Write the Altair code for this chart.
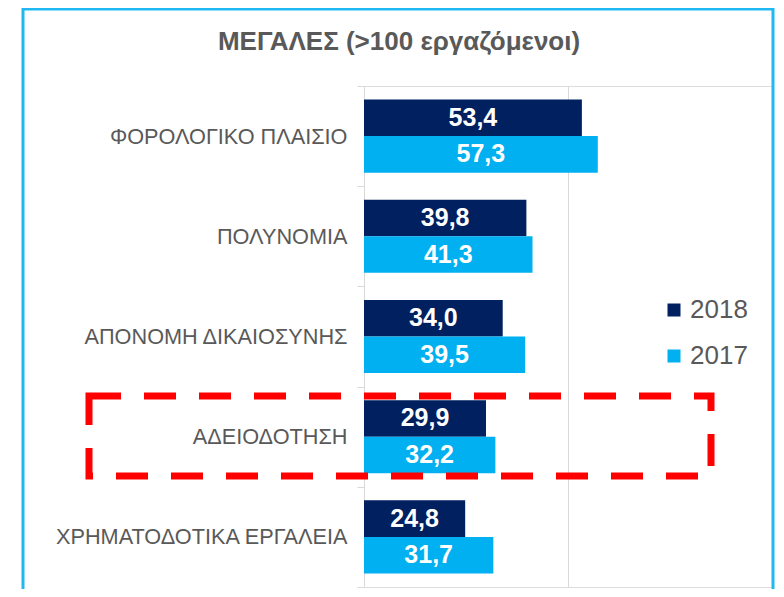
import altair as alt
import pandas as pd

categories = ["ΦΟΡΟΛΟΓΙΚΟ ΠΛΑΙΣΙΟ", "ΠΟΛΥΝΟΜΙΑ", "ΑΠΟΝΟΜΗ ΔΙΚΑΙΟΣΥΝΗΣ",
              "ΑΔΕΙΟΔΟΤΗΣΗ", "ΧΡΗΜΑΤΟΔΟΤΙΚΑ ΕΡΓΑΛΕΙΑ"]
years = ["2018", "2017"]
v2018 = [53.4, 39.8, 34.0, 29.9, 24.8]
v2017 = [57.3, 41.3, 39.5, 32.2, 31.7]
colors = ["#002060", "#00B0F0"]
title_text = "ΜΕΓΑΛΕΣ (>100 εργαζόμενοι)"

rows = []
for c, a, b in zip(categories, v2018, v2017):
    rows.append({"cat": c, "year": "2018", "value": a})
    rows.append({"cat": c, "year": "2017", "value": b})
df = pd.DataFrame(rows)

FONT = "Liberation Sans"
GRAY = "#595959"
W, H = 408, 501

y_enc = alt.Y("cat:N", sort=categories,
              scale=alt.Scale(paddingInner=0, paddingOuter=0),
              axis=alt.Axis(title=None, tickBand="extent", tickSize=7,
                            tickColor="#D9D9D9", domainColor="#D9D9D9",
                            labelFontSize=21.7, labelColor=GRAY, labelFont=FONT,
                            labelPadding=10, labelLimit=400))
yoff_enc = alt.YOffset("year:N", sort=years,
                       scale=alt.Scale(paddingOuter=0.37, paddingInner=0))

base = alt.Chart(df)

bars = base.mark_bar(stroke=None).encode(
    x=alt.X("value:Q", scale=alt.Scale(domain=[0, 100]),
            axis=alt.Axis(title=None, labels=False, ticks=False, domain=False,
                          values=[50], gridColor="#D9D9D9", grid=True)),
    y=y_enc,
    yOffset=yoff_enc,
    color=alt.Color("year:N", sort=years,
                    scale=alt.Scale(domain=years, range=colors),
                    legend=alt.Legend(title=None, orient="none", legendX=297,
                                      legendY=211, symbolType="square",
                                      symbolSize=169, symbolStrokeWidth=0,
                                      labelFontSize=26, labelColor=GRAY,
                                      labelFont=FONT, rowPadding=20,
                                      labelOffset=3, padding=0)),
)

labels = base.transform_calculate(
    mid="datum.value / 2",
    lab="replace(format(datum.value, '.1f'), '.', ',')",
).mark_text(color="white", fontWeight="bold", fontSize=25, font=FONT,
            baseline="middle", align="center").encode(
    x=alt.X("mid:Q"),
    y=alt.Y("cat:N", sort=categories),
    yOffset=alt.YOffset("year:N", sort=years),
    text="lab:N",
)

one = alt.Chart(pd.DataFrame({"a": [0]}))

title = one.mark_text(fontSize=26, fontWeight="bold", color=GRAY, font=FONT,
                      align="center", baseline="alphabetic").encode(
    x=alt.value(35), y=alt.value(-36), text=alt.value(title_text))

highlight = one.mark_rect(fill=None, stroke="#FF0000", strokeWidth=7,
                          strokeDash=[32, 23]).encode(
    x=alt.value(-275), x2=alt.value(347), y=alt.value(310), y2=alt.value(390))

border = one.mark_rect(fill=None, stroke="#20B8F0", strokeWidth=3).encode(
    x=alt.value(-341), x2=alt.value(409), y=alt.value(-77), y2=alt.value(540))

chart = alt.layer(border, bars, labels, title, highlight).properties(
    width=W, height=H,
    autosize=alt.AutoSizeParams(type="none"),
    padding={"left": 356, "top": 78, "right": 4, "bottom": 2},
).configure_view(stroke=None).configure(background="white")

chart.save("out.html", embed_options={"renderer": "svg", "actions": False})
